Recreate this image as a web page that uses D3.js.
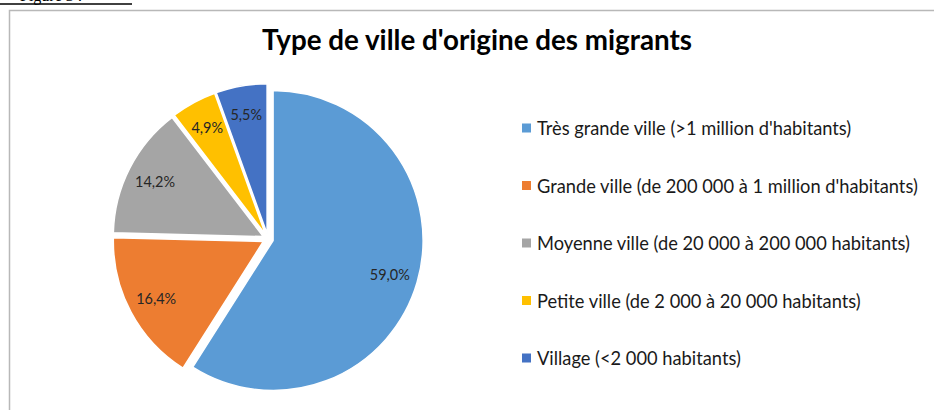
<!DOCTYPE html>
<html>
<head>
<meta charset="utf-8">
<script src="https://cdn.jsdelivr.net/npm/d3@7"></script>
<style>
  html, body { margin: 0; padding: 0; background: #fff; }
  svg { display: block; }
</style>
</head>
<body>
<div id="chart"></div>
<script>
// Data
var categories = [
  "Très grande ville (>1 million d'habitants)",
  "Grande ville (de 200 000 à 1 million d'habitants)",
  "Moyenne ville (de 20 000 à 200 000 habitants)",
  "Petite ville (de 2 000 à 20 000 habitants)",
  "Village (<2 000 habitants)"
];
var values = [59.0, 16.4, 14.2, 4.9, 5.5];
var colors = ["#5b9bd5", "#ed7d31", "#a5a5a5", "#ffc000", "#4472c4"];
var title = "Type de ville d'origine des migrants";

var width = 934, height = 410;

var svg = d3.select("#chart")
  .append("svg")
  .attr("width", width)
  .attr("height", height);

// fit a text element's font size to a wanted width
var fitText = function(sel, wanted) {
  var fs = parseFloat(sel.attr("font-size"));
  var w = sel.node().getComputedTextLength();
  sel.attr("font-size", (fs * wanted / w).toFixed(2));
};

// caption of the figure, mostly cut off by the top of the page
svg.append("line")
  .attr("x1", 0).attr("x2", 132)
  .attr("y1", 4).attr("y2", 4)
  .attr("stroke", "#000")
  .attr("stroke-width", 1.5);
svg.append("text")
  .attr("x", 20).attr("y", 0.5)
  .attr("font-family", "Liberation Serif")
  .attr("font-size", 16)
  .attr("fill", "#000")
  .text("Figure 3 :");

// chart area border (runs out of the picture right and bottom)
svg.append("path")
  .attr("d", "M9.5," + (height + 5) + "V10.5H" + (width + 5))
  .attr("fill", "none")
  .attr("stroke", "#b8b8b8")
  .attr("stroke-width", 1.5);

// title
var t = svg.append("text")
  .attr("x", 477).attr("y", 50)
  .attr("text-anchor", "middle")
  .attr("font-family", "Lato")
  .attr("font-weight", "bold")
  .attr("font-size", 26)
  .attr("fill", "#000")
  .text(title);
fitText(t, 430);

// pie, every slice pulled out a little
var cx = 268, cy = 239, radius = 150, explode = 5.3;
var frLocale = d3.formatLocale({decimal: ",", thousands: " ", grouping: [3], currency: ["", " €"]});
var fmt = frLocale.format(".1f");

var pie = d3.pie().sort(null).value(function(d) { return d; });
var arcs = pie(values);
var arc = d3.arc().innerRadius(0).outerRadius(radius);
var labelArc = d3.arc().innerRadius(radius * 0.81).outerRadius(radius * 0.81);

var g = svg.append("g").attr("transform", "translate(" + cx + "," + cy + ")");

var slice = g.selectAll("g.slice")
  .data(arcs)
  .enter().append("g")
  .attr("class", "slice")
  .attr("transform", function(d) {
    var mid = (d.startAngle + d.endAngle) / 2;
    return "translate(" + (explode * Math.sin(mid)) + "," + (-explode * Math.cos(mid)) + ")";
  });

slice.append("path")
  .attr("d", arc)
  .attr("fill", function(d, i) { return colors[i]; })
  .attr("stroke", "#fff")
  .attr("stroke-width", 1.5)
  .attr("stroke-linejoin", "round");

var labels = slice.append("text")
  .attr("transform", function(d) { return "translate(" + labelArc.centroid(d) + ")"; })
  .attr("text-anchor", "middle")
  .attr("dominant-baseline", "central")
  .attr("font-family", "Lato")
  .attr("font-size", 14)
  .attr("fill", "#262626")
  .text(function(d) { return fmt(d.value) + "%"; });

// label size: "59,0%" is about 40px wide in the reference
var lw = labels.nodes()[0].getComputedTextLength();
labels.attr("font-size", (14 * 40 / lw).toFixed(2));

// legend
var legY = d3.scalePoint().domain(categories).range([128, 358]);

var leg = svg.selectAll("g.legend")
  .data(categories)
  .enter().append("g")
  .attr("class", "legend")
  .attr("transform", function(d) { return "translate(522," + legY(d) + ")"; });

leg.append("rect")
  .attr("x", 0).attr("y", -4.5)
  .attr("width", 9).attr("height", 9)
  .attr("fill", function(d, i) { return colors[i]; });

var legText = leg.append("text")
  .attr("x", 15).attr("y", 0)
  .attr("dominant-baseline", "central")
  .attr("font-family", "Lato")
  .attr("font-size", 15)
  .attr("fill", "#1a1a1a")
  .text(function(d) { return d; });

// size the legend font so the longest line spans like the reference
var w0 = legText.nodes()[1].getComputedTextLength();
legText.attr("font-size", (15 * 381 / w0).toFixed(2));
</script>
</body>
</html>
